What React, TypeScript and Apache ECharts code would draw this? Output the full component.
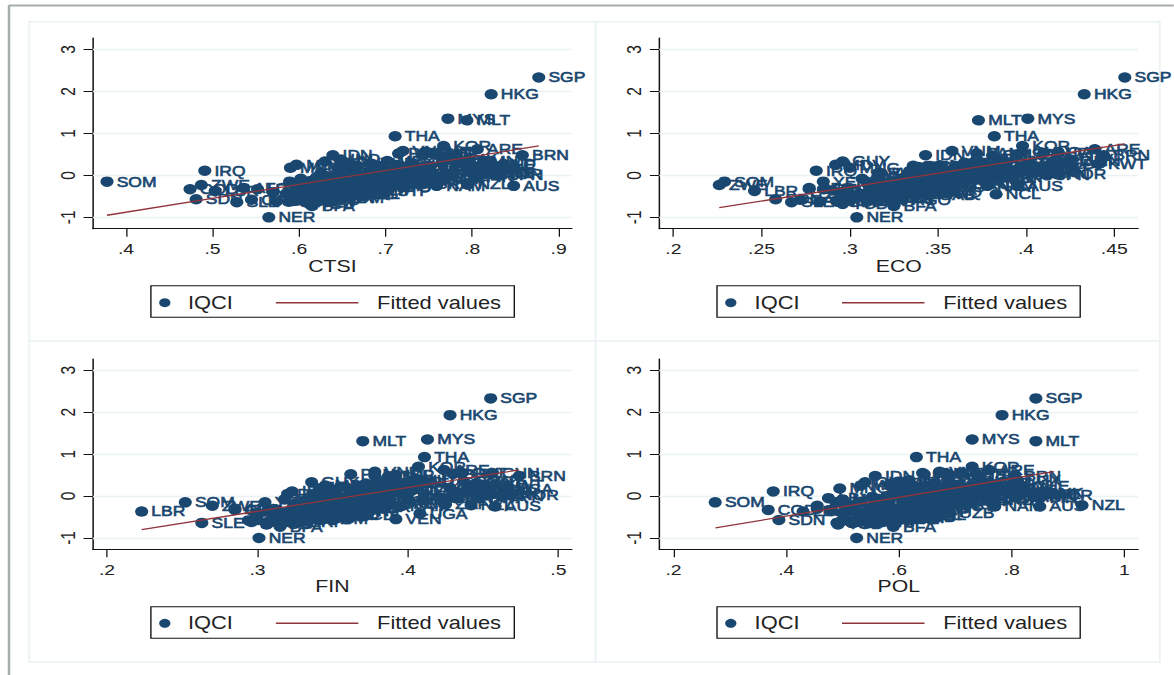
import React, { useEffect, useRef } from "react";
import * as echarts from "echarts";

const countries = [
  "SGP","HKG","MYS","MLT","THA","KOR","ARE","BRN","IDN","CHN",
  "IRQ","SOM","NER","BFA","ZWE","LBR","SDN","SLE","COD","PAN",
  "QAT","BHR","ISR","CHL","OMN","KWT","SAU","JPN","USA","CAN",
  "GBR","DEU","FRA","NLD","BEL","CHE","AUT","IRL","LUX","SWE",
  "DNK","NOR","FIN","ISL","NZL","AUS","NAM","ESP","ITA","PRT",
  "GRC","CYP","CZE","SVK","SVN","POL","HUN","EST","LVA","LTU",
  "BGR","ROU","HRV","MEX","CRI","VNM","PHL","TUR","IND","JOR",
  "MAR","TUN","EGY","LBN","ARG","BRA","COL","PER","URY","PRY",
  "BOL","ECU","VEN","GUY","SUR","DOM","JAM","TTO","BRB","BWA",
  "ZAF","MUS","NCL","GAB","KEN","TZA","UGA","RWA","ETH","MOZ",
  "MDG","MWI","ZMB","AGO","CMR","NGA","GHA","CIV","SEN","MLI",
  "BEN","TGO","GIN","GMB","GNB","TCD","CAF","MRT","HTI","YEM",
  "AFG","PAK","BGD","NPL","LKA","KHM","LAO","MMR","MNG","KAZ",
  "UZB","KGZ","TJK","ARM","GEO","AZE","MDA","UKR","RUS","BLR",
  "ALB","MKD","SRB","BIH","IRN","DZA","LBY","SYR","COG","MDV",
  "SWZ","LSO","BDI","ERI","DJI","COM","GNQ","STP","CPV","FJI",
  "PNG","SLV","GTM","HND","NIC","BLZ","VCT",
];
const iqci = [
  2.33,1.93,1.35,1.31,.93,.70,.62,.48,.48,.55,
  .11,-.15,-1,-.73,-.23,-.37,-.57,-.64,-.33,.52,
  .55,.53,.50,.47,.35,.27,.30,0,.16,.08,
  .18,.14,.10,.26,.20,.24,.10,.33,.38,.05,
  .07,.02,-.05,-.02,-.22,-.25,-.25,-.06,-.10,-.08,
  -.20,.12,.22,.16,.10,.15,.28,.30,.14,.18,
  .06,.12,-.04,.34,.20,.58,.30,.28,.38,.05,
  .24,-.04,-.10,0,-.28,-.15,-.05,.02,-.12,-.22,
  -.38,-.30,-.55,.33,-.18,.15,-.20,-.28,-.10,-.05,
  -.20,.04,-.45,-.48,-.30,-.32,-.42,.05,-.45,-.55,
  -.47,-.52,-.50,-.58,-.44,-.35,-.12,-.28,-.22,-.60,
  -.50,-.58,-.63,-.36,-.62,-.68,-.58,-.44,-.33,-.15,
  -.30,-.20,-.14,-.10,.16,.05,-.02,-.08,.18,.22,
  -.40,-.05,-.25,.10,.23,.20,-.16,-.26,-.02,-.34,
  -.09,.02,-.12,-.24,-.30,-.42,-.05,-.36,-.40,.25,
  -.48,-.52,-.60,-.62,-.35,-.55,-.40,-.38,-.20,-.28,
  -.44,-.34,-.36,-.42,-.46,-.45,-.25,
];
const ctsi = [
  .877,.822,.772,.794,.711,.767,.806,.858,.639,.745,
  .491,.378,.565,.615,.487,.503,.481,.528,.474,.715,
  .748,.755,.760,.742,.795,.812,.785,.833,.805,.815,
  .802,.810,.795,.822,.806,.820,.800,.788,.778,.815,
  .808,.825,.805,.778,.795,.848,.759,.768,.755,.760,
  .745,.740,.752,.735,.748,.728,.732,.765,.738,.742,
  .705,.698,.712,.702,.690,.720,.655,.683,.648,.700,
  .663,.672,.640,.675,.680,.655,.662,.678,.722,.648,
  .625,.640,.635,.630,.612,.657,.695,.702,.730,.728,
  .700,.735,.665,.618,.634,.630,.620,.655,.605,.612,
  .600,.610,.625,.590,.622,.612,.640,.632,.628,.598,
  .607,.616,.588,.596,.574,.612,.545,.585,.552,.589,
  .536,.605,.612,.618,.645,.625,.632,.602,.590,.668,
  .610,.642,.598,.686,.697,.664,.672,.668,.660,.645,
  .684,.693,.689,.676,.635,.615,.620,.605,.570,.597,
  .622,.603,.606,.618,.654,.640,.650,.702,.668,.690,
  .660,.664,.670,.646,.636,.652,.692,
];
const eco = [
  .456,.433,.401,.373,.382,.398,.439,.444,.343,.398,
  .281,.229,.304,.325,.226,.246,.258,.267,.277,.372,
  .418,.410,.395,.381,.425,.441,.420,.412,.405,.408,
  .402,.399,.396,.414,.398,.404,.392,.415,.425,.395,
  .402,.418,.388,.379,.378,.395,.378,.385,.372,.376,
  .364,.382,.378,.371,.369,.366,.377,.388,.370,.368,
  .358,.352,.353,.385,.362,.358,.365,.368,.372,.355,
  .351,.344,.347,.360,.335,.340,.348,.356,.345,.343,
  .337,.329,.322,.296,.310,.353,.347,.352,.350,.375,
  .362,.361,.383,.345,.340,.328,.326,.316,.312,.318,
  .305,.308,.314,.330,.317,.345,.328,.322,.318,.298,
  .302,.296,.293,.290,.283,.296,.272,.309,.285,.285,
  .277,.325,.323,.315,.342,.318,.316,.307,.300,.344,
  .330,.331,.311,.334,.336,.339,.330,.326,.346,.333,
  .329,.340,.337,.331,.334,.338,.360,.298,.294,.292,
  .305,.302,.300,.310,.322,.311,.347,.316,.325,.338,
  .344,.320,.335,.329,.319,.328,.331,
];
const fin = [
  .455,.428,.413,.370,.411,.407,.424,.474,.378,.456,
  .323,.252,.301,.315,.270,.223,.300,.263,.285,.362,
  .436,.430,.392,.387,.437,.458,.445,.462,.466,.455,
  .448,.452,.440,.450,.428,.440,.430,.405,.410,.445,
  .435,.468,.432,.420,.442,.458,.395,.425,.410,.400,
  .388,.402,.395,.382,.384,.391,.380,.398,.376,.379,
  .366,.362,.358,.385,.368,.378,.372,.389,.404,.350,
  .345,.340,.344,.372,.360,.388,.368,.372,.352,.330,
  .322,.334,.392,.336,.325,.402,.355,.366,.356,.447,
  .425,.380,.360,.334,.350,.338,.408,.320,.322,.330,
  .326,.318,.334,.322,.338,.355,.342,.328,.332,.310,
  .320,.315,.308,.311,.296,.306,.294,.299,.307,.305,
  .285,.352,.335,.332,.370,.338,.336,.318,.341,.355,
  .318,.344,.326,.349,.358,.365,.341,.371,.386,.349,
  .347,.352,.361,.343,.360,.345,.346,.313,.300,.345,
  .341,.336,.312,.328,.336,.340,.319,.343,.347,.352,
  .346,.356,.362,.350,.354,.342,.366,
];
const pol = [
  .843,.783,.730,.843,.631,.730,.760,.805,.558,.642,
  .377,.274,.525,.590,.455,.430,.387,.490,.368,.645,
  .680,.710,.690,.742,.688,.705,.662,.812,.745,.806,
  .772,.782,.768,.795,.775,.820,.790,.752,.810,.835,
  .845,.858,.850,.842,.925,.850,.770,.735,.700,.755,
  .690,.722,.728,.708,.730,.703,.695,.758,.722,.716,
  .672,.665,.688,.598,.678,.672,.605,.583,.618,.633,
  .626,.618,.565,.585,.640,.642,.607,.630,.715,.582,
  .560,.574,.530,.540,.615,.620,.660,.648,.758,.768,
  .680,.725,.640,.595,.548,.610,.572,.680,.540,.585,
  .610,.600,.618,.500,.530,.505,.648,.580,.640,.530,
  .592,.545,.515,.572,.495,.492,.510,.540,.478,.488,
  .455,.508,.532,.582,.600,.610,.553,.500,.495,.610,
  .690,.626,.575,.660,.677,.590,.652,.618,.577,.568,
  .661,.669,.650,.642,.520,.535,.475,.480,.500,.532,
  .570,.598,.548,.560,.560,.576,.525,.650,.664,.612,
  .590,.622,.600,.608,.595,.636,.690,
];

const yTicks = [-1, 0, 1, 2, 3];
const ctsiTicks = [.4, .5, .6, .7, .8, .9];
const ecoTicks = [.2, .25, .3, .35, .4, .45];
const finTicks = [.2, .3, .4, .5];
const polTicks = [.2, .4, .6, .8, 1];

const ctsiFitX = [.378, .877];
const ctsiFitY = [-.95, .70];
const ecoFitX = [.226, .456];
const ecoFitY = [-.77, .75];
const finFitX = [.223, .474];
const finFitY = [-.80, .625];
const polFitX = [.2745, .875];
const polFitY = [-.76, .585];

// The reference picture is a horizontally stretched bitmap, so the whole chart is stretched the same way.
const S = 1.25;
const NAVY = "#1a476f";
const RED = "#90353b";
const GRID = "#eaf2f3";
const FONT = '"Liberation Sans", Arial, sans-serif';

const panels = [
  { name: "CTSI", xs: ctsi, ticks: ctsiTicks, fitX: ctsiFitX, fitY: ctsiFitY, min: .3617, max: .9153, l: 92.9, r: 571.9, t: 38, b: 228.7, box: [150.9, 514.3], dot: 164.8, text: 188, line: 275.8, ly: 301.7, by: 285.7 },
  { name: "ECO", xs: eco, ticks: ecoTicks, fitX: ecoFitX, fitY: ecoFitY, min: .192, max: .4636, l: 659.3, r: 1138.2, t: 38, b: 228.7, box: [717, 1080.2], dot: 730.8, text: 754.6, line: 842, ly: 301.7, by: 285.7 },
  { name: "FIN", xs: fin, ticks: finTicks, fitX: finFitX, fitY: finFitY, min: .1906, max: .509, l: 92.9, r: 571.9, t: 359, b: 549.3, box: [150.9, 514.3], dot: 164.8, text: 188, line: 275.8, ly: 622.3, by: 606.7 },
  { name: "POL", xs: pol, ticks: polTicks, fitX: polFitX, fitY: polFitY, min: .1748, max: 1.0246, l: 659.3, r: 1138.2, t: 359, b: 549.3, box: [717, 1080.2], dot: 730.8, text: 754.6, line: 842, ly: 622.3, by: 606.7 },
];

const fmt = (v: number | string) => String(v).replace(/^0(?=\.)/, "").replace(/^-0(?=\.)/, "-");

function buildOption() {
  const grid: any[] = [], xAxis: any[] = [], yAxis: any[] = [], series: any[] = [], legend: any[] = [], graphic: any[] = [];

  const panelRects = [
    [29.3, 21.7, 595.6, 341], [595.6, 21.7, 1159.8, 341],
    [29.3, 341, 595.6, 662], [595.6, 341, 1159.8, 662],
  ];
  panelRects.forEach(([a, b, c, d]) => graphic.push({
    type: "rect", z: -10, shape: { x: a / S, y: b, width: (c - a) / S, height: d - b },
    style: { fill: "#fff", stroke: GRID, lineWidth: 1.4 },
  }));
  graphic.push({ type: "line", z: -9, shape: { x1: 9 / S, y1: 5.5, x2: 1174 / S, y2: 5.5 }, style: { stroke: "#a6abae", lineWidth: 2 } });
  graphic.push({ type: "line", z: -9, shape: { x1: 9 / S, y1: 5, x2: 9 / S, y2: 675 }, style: { stroke: "#a6abae", lineWidth: 2 } });

  panels.forEach((p, i) => {
    grid.push({ left: p.l / S, width: (p.r - p.l) / S, top: p.t, height: p.b - p.t, containLabel: false });
    xAxis.push({
      type: "value", gridIndex: i, min: p.min, max: p.max, name: p.name, nameLocation: "middle", nameGap: 28,
      nameTextStyle: { fontFamily: FONT, fontSize: 17, color: "#222" },
      axisLine: { show: true, onZero: false, lineStyle: { color: "#111", width: 1.2 } },
      axisTick: { show: true, length: 8, customValues: p.ticks, lineStyle: { color: "#111", width: 1 } },
      axisLabel: { customValues: p.ticks, margin: 12, fontFamily: FONT, fontSize: 15.5, color: "#222", formatter: fmt },
      splitLine: { show: false },
    });
    yAxis.push({
      type: "value", gridIndex: i, min: -1.27, max: 3.27,
      axisLine: { show: true, onZero: false, lineStyle: { color: "#111", width: 1.2 } },
      axisTick: { show: true, length: 7.5, customValues: yTicks, lineStyle: { color: "#111", width: 1 } },
      axisLabel: { customValues: yTicks, rotate: 90, margin: 12, fontFamily: FONT, fontSize: 15.5, color: "#222", formatter: fmt },
      splitLine: { show: false },
    });
    series.push({
      type: "scatter", name: "IQCI", xAxisIndex: i, yAxisIndex: i, symbolSize: 10.5, z: 3,
      itemStyle: { color: NAVY, opacity: 1 },
      data: countries.map((c, k) => ({ name: c, value: [p.xs[k], iqci[k]] })),
      label: {
        show: true, position: "right", distance: 2.5, formatter: (q: any) => q.name,
        fontFamily: FONT, fontSize: 14, color: NAVY, textBorderColor: NAVY, textBorderWidth: 0.6,
      },
      labelLayout: { hideOverlap: false },
      markLine: {
        silent: true, symbol: "none", z: 1, animation: false, label: { show: false },
        lineStyle: { color: GRID, width: 1.4, type: "solid" },
        data: yTicks.map((v) => ({ yAxis: v })),
      },
    });
    series.push({
      type: "line", name: "Fitted values", xAxisIndex: i, yAxisIndex: i, symbol: "none", z: 6,
      lineStyle: { color: RED, width: 1.3 }, itemStyle: { color: RED },
      data: p.fitX.map((x, k) => [x, p.fitY[k]]),
    });
    graphic.push({
      type: "rect", z: 20, shape: { x: p.box[0] / S, y: p.by, width: (p.box[1] - p.box[0]) / S, height: 31.6 },
      style: { fill: "none", stroke: "#111", lineWidth: 1.1 },
    });
    const textStyle = { fontFamily: FONT, fontSize: 17.5, color: "#222" };
    legend.push({
      data: [{ name: "IQCI", icon: "circle" }], selectedMode: false, orient: "horizontal", padding: 0,
      left: p.dot / S - 4.5, top: p.ly - 8, itemWidth: 9, itemHeight: 9, itemStyle: { color: NAVY },
      textStyle: { ...textStyle, padding: [0, 0, 0, (p.text - p.dot) / S - 9.5] },
    });
    legend.push({
      data: [{ name: "Fitted values", icon: "rect" }], selectedMode: false, orient: "horizontal", padding: 0,
      left: p.line / S, top: p.ly - 8, itemWidth: 66, itemHeight: 1.4, itemStyle: { color: RED },
      textStyle: { ...textStyle, padding: [0, 0, 0, 10] },
    });
  });

  return { animation: false, backgroundColor: "#fff", grid, xAxis, yAxis, series, legend, graphic };
}

export default function App() {
  const ref = useRef<HTMLDivElement>(null);
  useEffect(() => {
    document.body.style.margin = "0";
    const chart = echarts.init(ref.current!, undefined, { renderer: "svg" });
    chart.setOption(buildOption());
    return () => chart.dispose();
  }, []);
  return (
    <div
      ref={ref}
      style={{ position: "absolute", left: 0, top: 0, width: 1174 / S, height: 675, transform: `scaleX(${S})`, transformOrigin: "left top" }}
    />
  );
}
